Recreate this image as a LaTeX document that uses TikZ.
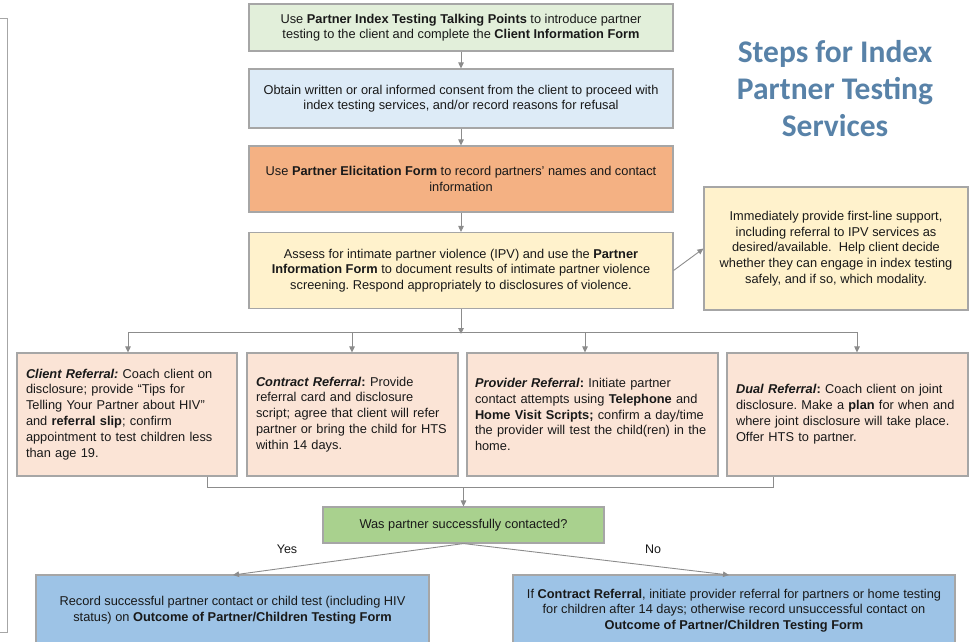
\documentclass[tikz,border=0pt]{standalone}
\usepackage{fontspec}
\setmainfont{Liberation Sans}
\newfontfamily\titlefont{Carlito}
\usetikzlibrary{arrows.meta}
\frenchspacing
\definecolor{boxborder}{RGB}{166,166,166}
\definecolor{linec}{RGB}{140,140,140}
\definecolor{textc}{RGB}{25,25,25}
\definecolor{fgreen}{RGB}{226,239,218}
\definecolor{fblue}{RGB}{221,235,247}
\definecolor{forange}{RGB}{244,177,131}
\definecolor{fyellow}{RGB}{255,242,204}
\definecolor{fpeach}{RGB}{251,228,214}
\definecolor{fdecision}{RGB}{169,209,142}
\definecolor{fbottom}{RGB}{157,195,230}
\definecolor{titleblue}{RGB}{88,130,168}
\begin{document}
\begin{tikzpicture}[x=1pt,y=-1pt,
  stepbox/.style={draw=boxborder, line width=1.1pt, fill=#1, text=textc,
    font=\fontsize{12.8}{15.6}\selectfont, align=center, inner sep=0pt},
  refbox/.style={stepbox=fpeach, align=left, font=\fontsize{12.8}{15.9}\selectfont},
  conn/.style={draw=linec, line width=0.9pt},
  arr/.style={conn, -{Triangle[length=6pt,width=5.5pt]}},
  lbl/.style={text=textc, font=\fontsize{12.5}{14}\selectfont, inner sep=0pt}]
\useasboundingbox (0,0) rectangle (976,641);
\clip (0,0) rectangle (976,641);
% left bracket
\draw[draw=boxborder, line width=1pt] (-1,18) -- (7,18) -- (7,632) -- (-1,632);
% title
\node[text=titleblue, font=\titlefont\bfseries\fontsize{31.5}{37}\selectfont, align=center] (title) at (835,89)
  {Steps for Index\\Partner Testing\\Services};
% main column
\node[stepbox=fgreen, minimum width=424pt, minimum height=47pt] (b1) at (461,27.5)
  {Use \textbf{Partner Index Testing Talking Points} to introduce partner\\testing to the client and complete the \textbf{Client Information Form}};
\node[stepbox=fblue, minimum width=424pt, minimum height=59pt] (b2) at (461,98.5)
  {Obtain written or oral informed consent from the client to proceed with\\index testing services, and/or record reasons for refusal};
\node[stepbox=forange, minimum width=424pt, minimum height=66pt] (b3) at (461,179)
  {Use \textbf{Partner Elicitation Form} to record partners’ names and contact\\information};
\node[stepbox=fyellow, minimum width=424pt, minimum height=76pt] (b4) at (461,270.5)
  {Assess for intimate partner violence (IPV) and use the \textbf{Partner}\\\textbf{Information Form} to document results of intimate partner violence\\screening. Respond appropriately to disclosures of violence.};
\node[stepbox=fyellow, minimum width=264pt, minimum height=123pt] (ipv) at (836,248.5)
  {Immediately provide first-line support,\\including referral to IPV services as\\desired/available.\ \ Help client decide\\whether they can engage in index testing\\safely, and if so, which modality.};
% referral boxes
\node[refbox, minimum width=220pt, minimum height=123pt, text width=202pt] (ra) at (127,414.5)
  {\textbf{\textit{Client Referral:}} Coach client on\\disclosure; provide “Tips for\\Telling Your Partner about HIV”\\and \textbf{referral slip}; confirm\\appointment to test children less\\than age 19.};
\node[refbox, minimum width=211pt, minimum height=123pt, text width=193pt] (rb) at (352.5,414.5)
  {\textbf{\textit{Contract Referral}}\textbf{:} Provide\\referral card and disclosure\\script; agree that client will refer\\partner or bring the child for HTS\\within 14 days.};
\node[refbox, minimum width=251pt, minimum height=123pt, text width=235pt] (rc) at (592.5,414.5)
  {\textbf{\textit{Provider Referral}}\textbf{:} Initiate partner\\contact attempts using \textbf{Telephone} and\\\textbf{Home Visit Scripts;} confirm a day/time\\the provider will test the child(ren) in the\\home.};
\node[refbox, minimum width=241pt, minimum height=123pt, text width=223pt] (rd) at (847.5,414.5)
  {\textbf{\textit{Dual Referral}}\textbf{:} Coach client on joint\\disclosure. Make a \textbf{plan} for when and\\where joint disclosure will take place.\\Offer HTS to partner.};
% decision
\node[stepbox=fdecision, minimum width=281pt, minimum height=36pt] (dec) at (463.5,525)
  {Was partner successfully contacted?};
% outcomes
\node[stepbox=fbottom, minimum width=393pt, minimum height=71pt] (yes) at (232.5,610.5)
  {Record successful partner contact or child test (including HIV\\status) on \textbf{Outcome of Partner/Children Testing Form}};
\node[stepbox=fbottom, minimum width=442pt, minimum height=71pt] (no) at (734,610.5)
  {If \textbf{Contract Referral}, initiate provider referral for partners or home testing\\for children after 14 days; otherwise record unsuccessful contact on\\\textbf{Outcome of Partner/Children Testing Form}};
% connectors main column
\draw[arr] (b1) -- (b2);
\draw[arr] (b2) -- (b3);
\draw[arr] (b3) -- (b4);
\draw[arr] (b4.east) -- (ipv.west);
% distribution bus
\coordinate (busM) at (461,332);
\coordinate (busA) at (128,332);
\coordinate (busB) at (352,332);
\coordinate (busC) at (585,332);
\coordinate (busD) at (857,332);
\draw[arr] (b4.south) -- ([yshift=-2pt]busM);
\draw[conn] (busA) -- (busD);
\draw[arr] (busA) -- (busA |- ra.north);
\draw[arr] (busB) -- (busB |- rb.north);
\draw[arr] (busC) -- (busC |- rc.north);
\draw[arr] (busD) -- (busD |- rd.north);
% collecting bus
\coordinate (colA) at (207,487);
\coordinate (colD) at (773,487);
\coordinate (colM) at (463.5,487);
\draw[conn] (colA |- ra.south) -- (colA) -- (colD) -- (colD |- rd.south);
\draw[arr] (colM) -- (dec.north);
% yes / no
\coordinate (yesEnd) at (233,575);
\coordinate (noEnd) at (729,575);
\draw[arr] (dec.south) -- (yesEnd);
\draw[arr] (dec.south) -- (noEnd);
\node[lbl] (ylab) at (287,549) {Yes};
\node[lbl] (nlab) at (653,549) {No};
\end{tikzpicture}
\end{document}
